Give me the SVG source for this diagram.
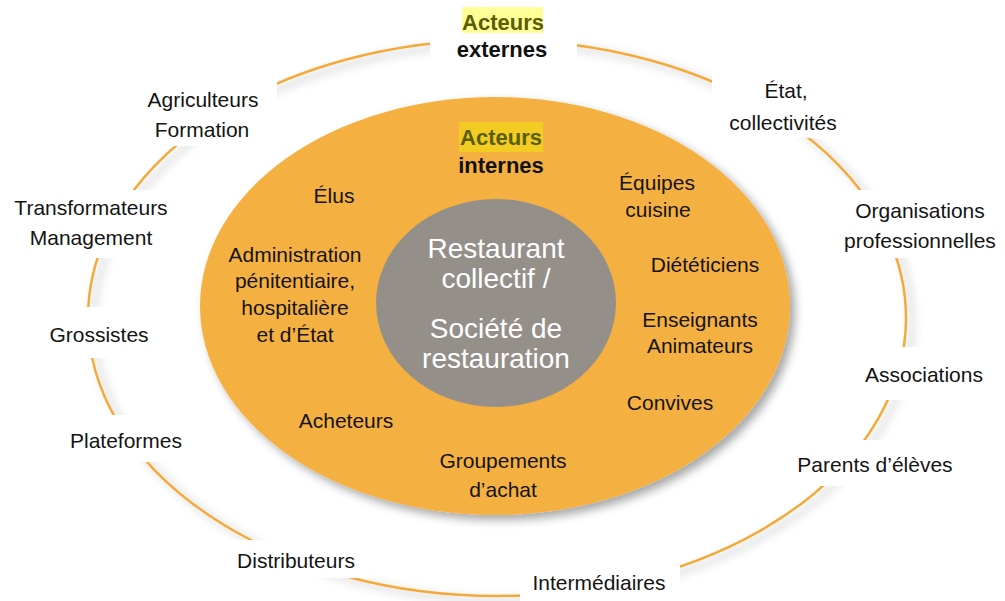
<svg xmlns="http://www.w3.org/2000/svg" width="1005" height="601" viewBox="0 0 1005 601">
<defs>
<style>
.lbl{font-family:"Liberation Sans",Arial,sans-serif;font-size:21px;fill:#141414;text-anchor:middle}
.ttl{font-family:"Liberation Sans",Arial,sans-serif;font-size:22px;font-weight:bold;text-anchor:middle}
.ctr{font-family:"Liberation Sans",Arial,sans-serif;font-size:28px;fill:#ffffff;text-anchor:middle}
.bg{fill:#ffffff}
</style>
<filter id="sh" x="-10%" y="-10%" width="125%" height="125%">
<feDropShadow dx="5" dy="5" stdDeviation="5" flood-color="#000" flood-opacity="0.35"/>
</filter>
<filter id="sh2" x="-10%" y="-10%" width="125%" height="125%">
<feDropShadow dx="6" dy="4" stdDeviation="5" flood-color="#000" flood-opacity="0.3"/>
</filter>
</defs>
<rect width="1005" height="601" fill="#ffffff"/>
<g id="connectors">
<ellipse id="outer-ring" cx="497" cy="318" rx="409" ry="278" fill="none" stroke="#f5a93a" stroke-width="2.5" filter="url(#sh2)"/>
</g>
<g id="label-backgrounds">
<rect class="bg" x="430" y="0" width="147" height="63"/>
<rect class="bg" x="112" y="78" width="165" height="68"/>
<rect class="bg" x="712" y="72" width="136" height="66"/>
<rect class="bg" x="5" y="190" width="178" height="68"/>
<rect class="bg" x="843" y="190" width="160" height="68"/>
<rect class="bg" x="40" y="307" width="125" height="51"/>
<rect class="bg" x="855" y="347" width="145" height="53"/>
<rect class="bg" x="60" y="415" width="130" height="47"/>
<rect class="bg" x="790" y="440" width="170" height="46"/>
<rect class="bg" x="225" y="540" width="145" height="38"/>
<rect class="bg" x="520" y="565" width="160" height="36"/>
</g>
<g id="internal-actors">
<ellipse cx="495" cy="306" rx="295" ry="209" fill="#f5b042" filter="url(#sh)"/>
</g>
<g id="center">
<ellipse cx="496" cy="303" rx="120" ry="104" fill="#958f8a"/>
<text class="ctr" x="496" y="258">Restaurant</text>
<text class="ctr" x="496" y="288">collectif /</text>
<text class="ctr" x="496" y="338">Société de</text>
<text class="ctr" x="496" y="368">restauration</text>
</g>
<g id="title-externes">
<rect x="462" y="7" width="81" height="26" fill="#ffff99"/>
<text class="ttl" x="503" y="30" fill="#5c5c00">Acteurs</text>
<text class="ttl" x="502" y="57" fill="#111111">externes</text>
</g>
<g id="title-internes">
<rect x="459" y="122" width="84" height="30" fill="#f2cc22"/>
<text class="ttl" x="501" y="145" fill="#5c5c00">Acteurs</text>
<text class="ttl" x="501" y="173" fill="#111111">internes</text>
</g>
<g id="agriculteurs"><text class="lbl" x="203" y="107">Agriculteurs</text><text class="lbl" x="202" y="137">Formation</text></g>
<g id="etat"><text class="lbl" x="786" y="98">État,</text><text class="lbl" x="783" y="130">collectivités</text></g>
<g id="transformateurs"><text class="lbl" x="91" y="215">Transformateurs</text><text class="lbl" x="91" y="245">Management</text></g>
<g id="organisations"><text class="lbl" x="920" y="218">Organisations</text><text class="lbl" x="920" y="248">professionnelles</text></g>
<g id="grossistes"><text class="lbl" x="99" y="342">Grossistes</text></g>
<g id="associations"><text class="lbl" x="924" y="382">Associations</text></g>
<g id="plateformes"><text class="lbl" x="126" y="448">Plateformes</text></g>
<g id="parents"><text class="lbl" x="875" y="472">Parents d’élèves</text></g>
<g id="distributeurs"><text class="lbl" x="296" y="568">Distributeurs</text></g>
<g id="intermediaires"><text class="lbl" x="599" y="590">Intermédiaires</text></g>
<g id="elus"><text class="lbl" x="334" y="203">Élus</text></g>
<g id="administration"><text class="lbl" x="295" y="262">Administration</text><text class="lbl" x="295" y="288">pénitentiaire,</text><text class="lbl" x="295" y="315">hospitalière</text><text class="lbl" x="295" y="342">et d’État</text></g>
<g id="equipes"><text class="lbl" x="657" y="190">Équipes</text><text class="lbl" x="658" y="217">cuisine</text></g>
<g id="dieteticiens"><text class="lbl" x="705" y="272">Diététiciens</text></g>
<g id="enseignants"><text class="lbl" x="700" y="327">Enseignants</text><text class="lbl" x="700" y="353">Animateurs</text></g>
<g id="convives"><text class="lbl" x="670" y="410">Convives</text></g>
<g id="acheteurs"><text class="lbl" x="346" y="428">Acheteurs</text></g>
<g id="groupements"><text class="lbl" x="503" y="468">Groupements</text><text class="lbl" x="503" y="497">d’achat</text></g>
</svg>
